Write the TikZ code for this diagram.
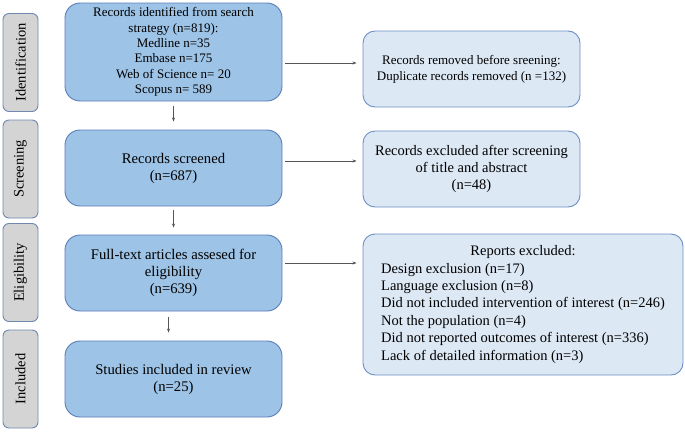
\documentclass[tikz,border=0pt]{standalone}
\usepackage{fontspec}
\setmainfont{Liberation Serif}
\usetikzlibrary{arrows.meta,calc}
\definecolor{mainfill}{HTML}{9DC3E6}
\definecolor{mainborder}{HTML}{5B7DB8}
\definecolor{sidefill}{HTML}{D4D4D4}
\definecolor{sideborder}{HTML}{7088B0}
\definecolor{rightfill}{HTML}{DDE8F5}
\definecolor{rightborder}{HTML}{6C8EC4}
\definecolor{arrowcol}{HTML}{555555}
\tikzset{
  sidebox/.style={draw=sideborder, fill=sidefill, line width=0.9pt, rounded corners=6pt,
    minimum width=35pt, minimum height=98pt, inner sep=0pt, font=\fontsize{14.5}{16}\selectfont},
  mainbox/.style={draw=mainborder, fill=mainfill, line width=0.9pt, rounded corners=15pt,
    minimum width=217pt, inner sep=0pt, align=center},
  rightbox/.style={draw=rightborder, fill=rightfill, line width=0.9pt, rounded corners=12pt,
    inner sep=0pt, align=center},
  arr/.style={draw=arrowcol, line width=0.6pt, -{Stealth[length=4pt,width=3pt]}}
}
\begin{document}
\begin{tikzpicture}[x=1pt,y=-1pt]
\useasboundingbox (0,0) rectangle (685,431);
% side labels
\node[sidebox] (id) at (20.5,62.5) {\rotatebox{90}{Identification}};
\node[sidebox] (scr) at (20.5,169) {\rotatebox{90}{Screening}};
\node[sidebox] (eli) at (20.5,272.5) {\rotatebox{90}{Eligibility}};
\node[sidebox] (inc) at (20.5,379) {\rotatebox{90}{Included}};
% main column
\node[mainbox, minimum height=98pt, font=\fontsize{13}{15.3}\selectfont] (m1) at (173.5,52)
  {Records identified from search\\strategy (n=819):\\Medline n=35\\Embase n=175\\Web of Science n= 20\\Scopus n= 589};
\node[mainbox, minimum height=76pt, font=\fontsize{14.7}{17}\selectfont] (m2) at (173.5,168)
  {Records screened\\(n=687)};
\node[mainbox, minimum height=76pt, font=\fontsize{14.7}{17}\selectfont] (m3) at (173.5,273)
  {Full-text articles assesed for\\eligibility\\(n=639)};
\node[mainbox, minimum height=76pt, font=\fontsize{14.7}{17}\selectfont] (m4) at (173.5,379)
  {Studies included in review\\(n=25)};
% right column
\node[rightbox, minimum width=217pt, minimum height=76pt, font=\fontsize{13}{15.7}\selectfont] (r1) at (471.5,69)
  {Records removed before sreening:\\Duplicate records removed (n =132)};
\node[rightbox, minimum width=217pt, minimum height=76pt, font=\fontsize{14.5}{17}\selectfont] (r2) at (471.5,169)
  {Records excluded after screening\\of title and abstract\\(n=48)};
\node[rightbox, minimum width=320pt, minimum height=141pt, font=\fontsize{14.5}{17.4}\selectfont] (r3) at (523,304.5)
  {\begin{tabular}{@{}l@{}}
   \multicolumn{1}{@{}c@{}}{Reports excluded:}\\
   Design exclusion (n=17)\\
   Language exclusion (n=8)\\
   Did not included intervention of interest (n=246)\\
   Not the population (n=4)\\
   Did not reported outcomes of interest (n=336)\\
   Lack of detailed information (n=3)
   \end{tabular}};
% connectors
\draw[arr, shorten <=3pt, shorten >=6pt] (m1.east |- {0,63}) -- (r1.west |- {0,63});
\draw[arr, shorten <=3pt, shorten >=6pt] (m2.east |- {0,161}) -- (r2.west |- {0,161});
\draw[arr, shorten <=3pt, shorten >=6pt] (m3.east |- {0,263}) -- (r3.west |- {0,263});
\draw[arr, shorten <=5pt, shorten >=8pt] (m1.south) -- (m2.north);
\draw[arr, shorten <=4pt, shorten >=7pt] (m2.south) -- (m3.north);
\draw[arr, shorten <=6pt, shorten >=8pt] ([xshift=-5pt]m3.south) -- ([xshift=-5pt]m4.north);
\end{tikzpicture}
\end{document}
